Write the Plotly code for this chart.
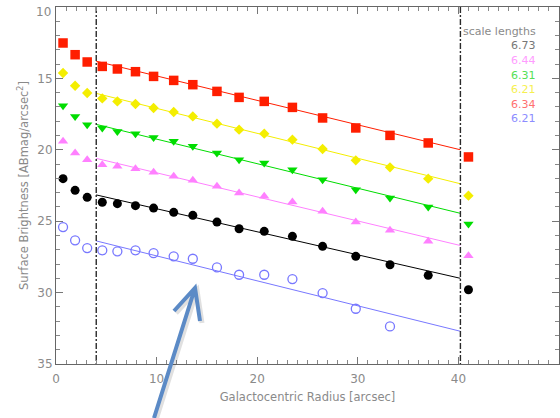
import plotly.graph_objects as go

# Isophote radii [arcsec]
radius = [0.7, 1.9, 3.1, 4.6, 6.1, 7.9, 9.7, 11.7, 13.6, 16.0, 18.2, 20.7,
          23.5, 26.5, 29.8, 33.2, 37.0, 41.0]

# Surface brightness profiles [ABmag/arcsec^2]
mu_red = [12.52, 13.34, 13.85, 14.16, 14.34, 14.53, 14.86, 15.14, 15.44, 15.91,
          16.33, 16.61, 17.03, 17.77, 18.47, 18.99, 19.52, 20.50]
mu_yellow = [14.62, 15.51, 16.02, 16.40, 16.61, 16.79, 17.07, 17.35, 17.66, 18.17,
             18.59, 18.87, 19.29, 19.94, 20.74, 21.23, 22.02, 23.21]
mu_green = [16.91, 17.66, 18.24, 18.47, 18.71, 18.87, 19.13, 19.41, 19.76, 20.22,
            20.69, 20.92, 21.39, 22.09, 22.79, 23.38, 24.00, 25.20]
mu_pink = [19.41, 20.22, 20.69, 21.04, 21.16, 21.32, 21.58, 21.86, 22.14, 22.56,
           23.03, 23.26, 23.66, 24.31, 25.06, 25.64, 26.41, 27.42]
mu_black = [22.02, 22.84, 23.33, 23.67, 23.77, 23.91, 24.08, 24.38, 24.59, 25.06,
            25.53, 25.71, 26.06, 26.76, 27.46, 28.05, 28.79, 29.80]
mu_blue = [25.41, 26.34, 26.88, 27.04, 27.11, 27.04, 27.23, 27.46, 27.63, 28.24,
           28.75, 28.75, 29.05, 30.03, 31.13, 32.37]

# Exponential-disc fits: scale length [arcsec] and fitted mu at the inner limit
scale_len = {"black": 6.73, "pink": 6.44, "green": 6.31,
             "yellow": 6.21, "red": 6.34, "blue": 6.21}
mu_fit_start = {"red": 13.80, "yellow": 16.05, "green": 18.22,
                "pink": 20.60, "black": 23.16, "blue": 26.38}
fit_range = [4.0, 40.2]

legend_order = ["black", "pink", "green", "yellow", "red", "blue"]

x_ticks = [0, 10, 20, 30, 40, 50]
y_ticks = [10, 15, 20, 25, 30, 35]

colors = {"red": "#ff1e00", "yellow": "#f4ee00", "green": "#00dd00",
          "pink": "#ff80ff", "black": "#000000", "blue": "#7878ff"}
text_colors = {"red": "#ff7070", "yellow": "#f6f050", "green": "#55e055",
               "pink": "#ff9cff", "black": "#777777", "blue": "#8c8cff"}
symbols = {"red": "square", "yellow": "diamond", "green": "triangle-down",
           "pink": "triangle-up", "black": "circle", "blue": "circle-open"}
sizes = {"red": 9.5, "yellow": 8, "green": 9, "pink": 9, "black": 9, "blue": 9}
profiles = {"red": mu_red, "yellow": mu_yellow, "green": mu_green,
            "pink": mu_pink, "black": mu_black, "blue": mu_blue}

GRAY = "#8a8a8a"
FONT = "DejaVu Sans"

fig = go.Figure()

for name in ["red", "yellow", "green", "pink", "black", "blue"]:
    # fitted exponential: mu(r) = mu0 + 1.0857 * r / h
    r_fit = fit_range
    mu_fit = [mu_fit_start[name] + 1.0857 * (r - fit_range[0]) / scale_len[name]
              for r in r_fit]
    fig.add_trace(go.Scatter(x=r_fit, y=mu_fit, mode="lines",
                             line=dict(color=colors[name], width=1),
                             showlegend=False, hoverinfo="skip"))
    prof = profiles[name]
    fig.add_trace(go.Scatter(
        x=radius[:len(prof)], y=prof, mode="markers",
        marker=dict(symbol=symbols[name], size=sizes[name], color=colors[name],
                    line=dict(width=1.3 if name == "blue" else 0,
                              color=colors[name])),
        showlegend=False))

# fit-range limits
for xv in fit_range:
    fig.add_trace(go.Scatter(x=[xv, xv], y=[y_ticks[0], y_ticks[-1]], mode="lines",
                             line=dict(color="#2a2a2a", width=1.4,
                                       dash="6px,2px,2px,2px"),
                             showlegend=False, hoverinfo="skip"))

# scale-length legend
fig.add_annotation(x=47.8, y=11.70, xref="x", yref="y", text="scale lengths",
                   showarrow=False, xanchor="right", yanchor="middle",
                   borderpad=0, font=dict(color=GRAY, size=11))
for i, name in enumerate(legend_order):
    fig.add_annotation(x=47.8, y=12.72 + i * 1.022, xref="x", yref="y",
                       text=f"{scale_len[name]:.2f}", showarrow=False,
                       xanchor="right", yanchor="middle", borderpad=0,
                       font=dict(color=text_colors[name], size=11))

# top y tick label, nudged down so it stays inside the page
fig.add_annotation(x=0, y=y_ticks[0], xref="paper", yref="y",
                   text=str(y_ticks[0]), showarrow=False,
                   xanchor="right", yanchor="middle", xshift=-3, yshift=-5,
                   font=dict(color=GRAY, size=12, family=FONT))

# pointer arrow (pixel positions converted to paper coordinates)
L, T, W, H = 56, 7, 503, 357


def to_paper(px, py):
    return (px - L) / W, (T + H - py) / H


def chevron_path(pts):
    a, b, c, d = [to_paper(*p) for p in pts]
    return (f"M {a[0]} {a[1]} L {b[0]} {b[1]} "
            f"M {c[0]} {c[1]} L {b[0]} {b[1]} L {d[0]} {d[1]}")


arrow_pts = [(154, 418), (195, 288), (174, 311), (200, 321)]
shadow_pts = [(x + 2, y + 2) for x, y in arrow_pts]
fig.add_shape(type="path", path=chevron_path(shadow_pts), xref="paper", yref="paper",
              line=dict(color="rgba(0,0,0,0.12)", width=5))
fig.add_shape(type="path", path=chevron_path(arrow_pts), xref="paper", yref="paper",
              line=dict(color="#5b8ac6", width=4))

axis_common = dict(
    showline=True, linecolor="#666666", linewidth=1, mirror="ticks",
    ticks="inside", ticklen=7, tickcolor="#777777", tickwidth=1,
    showgrid=False, zeroline=False,
    tickfont=dict(color=GRAY, size=12, family=FONT),
    minor=dict(ticks="inside", ticklen=4, dtick=1, tickcolor="#888888",
               showgrid=False),
)

fig.update_xaxes(range=[x_ticks[0], x_ticks[-1]], tickvals=x_ticks,
                 ticktext=[str(v) for v in x_ticks], ticklabelstandoff=4,
                 title=dict(text="Galactocentric Radius [arcsec]",
                            font=dict(color=GRAY, size=11.5), standoff=7),
                 **axis_common)
fig.update_yaxes(range=[y_ticks[-1], y_ticks[0]], tickvals=y_ticks,
                 ticktext=[""] + [str(v) for v in y_ticks[1:]],
                 title=dict(text="Surface Brightness [ABmag/arcsec<sup>2</sup>]",
                            font=dict(color=GRAY, size=11.5), standoff=6),
                 **axis_common)

fig.update_layout(
    width=560, height=418,
    margin=dict(l=L, r=560 - L - W, t=T, b=418 - T - H),
    plot_bgcolor="white", paper_bgcolor="white",
    font=dict(family=FONT, color=GRAY),
)

fig.write_html("out.html")
